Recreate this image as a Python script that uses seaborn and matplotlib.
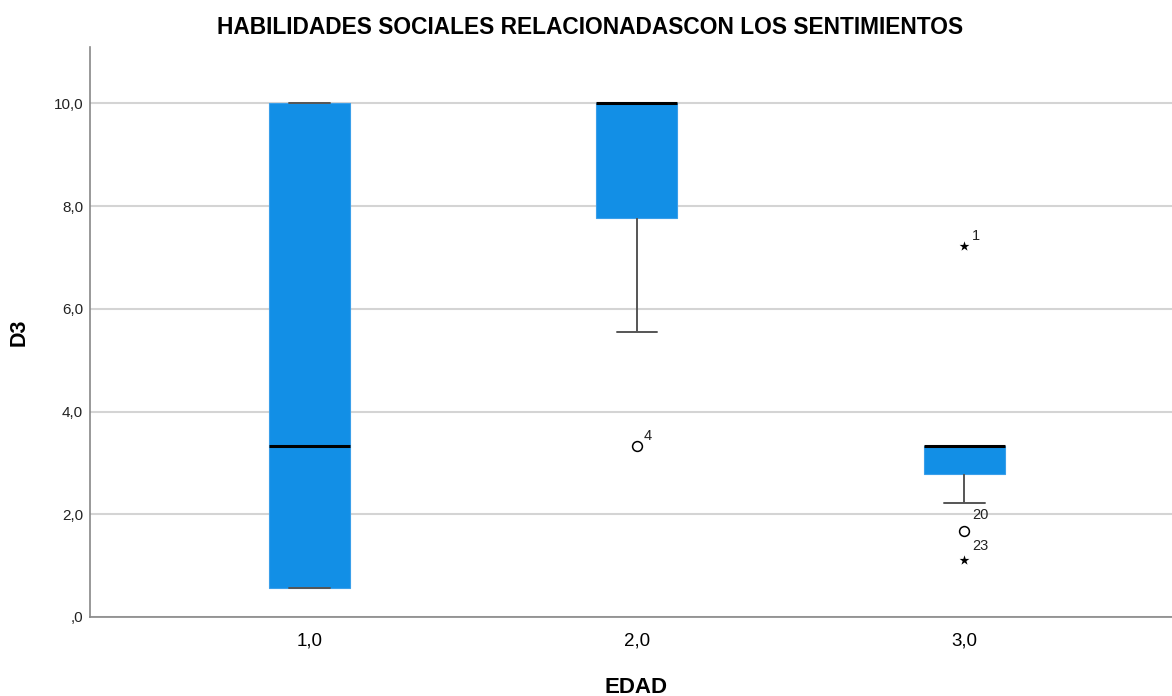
import pandas as pd
import matplotlib
matplotlib.use("Agg")
import matplotlib.pyplot as plt
import seaborn as sns

# D3 scores per EDAD group
edad_order = ["1,0", "2,0", "3,0"]
d3_edad_1 = [0.556, 0.556, 3.333, 10.0, 10.0]
d3_edad_2 = [3.333, 5.556, 7.778, 7.778, 10.0, 10.0, 10.0, 10.0, 10.0]
d3_edad_3 = [1.111, 1.667, 2.222, 2.778, 2.778, 3.333, 3.333, 3.333,
             3.333, 3.333, 3.333, 3.333, 7.222]

# outliers (circles) and extremes (stars) with their case numbers
circ_edad = ["2,0", "3,0"]
circ_d3 = [3.333, 1.667]
circ_case = ["4", "20"]
star_edad = ["3,0", "3,0"]
star_d3 = [7.222, 1.111]
star_case = ["1", "23"]

y_ticks = [0, 2, 4, 6, 8, 10]
y_tick_labels = [",0", "2,0", "4,0", "6,0", "8,0", "10,0"]

df = pd.DataFrame({
    "EDAD": ["1,0"] * len(d3_edad_1) + ["2,0"] * len(d3_edad_2) + ["3,0"] * len(d3_edad_3),
    "D3": d3_edad_1 + d3_edad_2 + d3_edad_3,
})

sns.set_style("white")
plt.rcParams["font.family"] = ["Liberation Sans", "DejaVu Sans"]
plt.rcParams["text.color"] = "black"
plt.rcParams["axes.labelcolor"] = "black"
plt.rcParams["xtick.color"] = "black"
plt.rcParams["ytick.color"] = "#222222"

fig = plt.figure(figsize=(11.72, 6.96), dpi=100)
ax = fig.add_axes([90 / 1172, 1 - 617 / 696, 1 - 90 / 1172, (617 - 47) / 696])

blue = "#128fe6"
sns.boxplot(data=df, x="EDAD", y="D3", order=edad_order, ax=ax, width=0.247,
            color=blue, saturation=1, showfliers=False, whis=1.5,
            boxprops=dict(facecolor=blue, edgecolor="#3a9fea", linewidth=0.8),
            medianprops=dict(color="black", linewidth=2.2),
            whiskerprops=dict(color="#555555", linewidth=1.4),
            capprops=dict(color="#555555", linewidth=1.4))

pos = {c: i for i, c in enumerate(edad_order)}

# outliers
ax.scatter([pos[c] for c in circ_edad], circ_d3, marker="o", s=50,
           facecolor="white", edgecolor="black", linewidth=1.1, zorder=5)
ax.scatter([pos[c] for c in star_edad], star_d3, marker="*", s=55,
           color="black", linewidth=0, zorder=5)

label_offsets = {"4": (7, 10), "20": (8, 16), "1": (7, 10), "23": (8, 14)}
for c, v, n in zip(circ_edad + star_edad, circ_d3 + star_d3, circ_case + star_case):
    ax.annotate(n, (pos[c], v), xytext=label_offsets[n], textcoords="offset pixels",
                ha="left", va="center", fontsize=10.5, color="#222222")

ax.set_xlim(-0.670, 2.634)
ax.set_ylim(0, 11.1)
ax.set_yticks(y_ticks)
ax.set_yticklabels(y_tick_labels, fontsize=11)
ax.set_xticks(range(len(edad_order)))
ax.set_xticklabels(edad_order, fontsize=13.5)
ax.tick_params(axis="y", length=0, pad=5)
ax.tick_params(axis="x", length=0, pad=11)
ax.yaxis.grid(True, color="#d4d4d4", linewidth=1.5)
ax.set_axisbelow(True)
for s in ["top", "right"]:
    ax.spines[s].set_visible(False)
for s in ["left", "bottom"]:
    ax.spines[s].set_color("#888888")
    ax.spines[s].set_linewidth(1.2)

ax.set_xlabel("EDAD", fontsize=16, fontweight="bold")
ax.set_ylabel("D3", fontsize=15.5, fontweight="bold")
ax.xaxis.set_label_coords(0.505, -0.105)
ax.yaxis.set_label_coords(-0.0555, 0.5)
fig.text(590 / 1172, 1 - 28 / 696, "HABILIDADES SOCIALES RELACIONADASCON LOS SENTIMIENTOS",
         ha="center", va="center", fontsize=16.4, fontweight="bold")

fig.savefig("out.png", dpi=100)
